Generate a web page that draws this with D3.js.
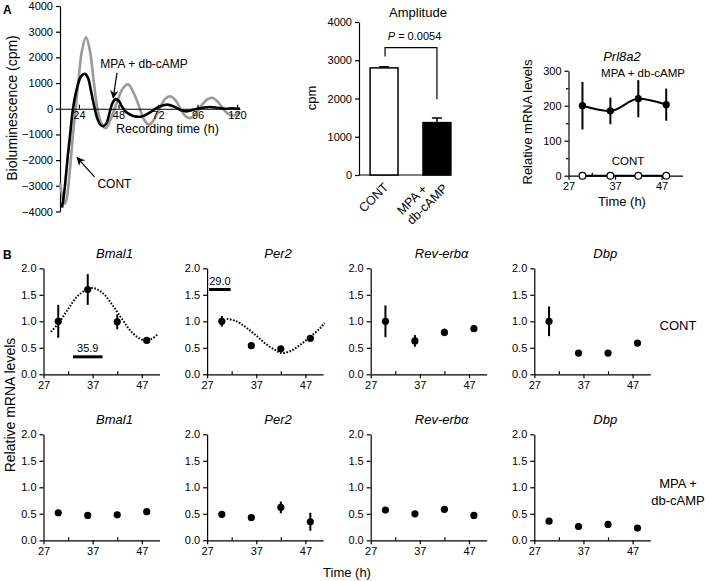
<!DOCTYPE html>
<html><head><meta charset="utf-8">
<script src="https://cdn.jsdelivr.net/npm/d3@7"></script>
<style>body{margin:0;background:#fff}svg{font-family:"Liberation Sans",Arial,Helvetica,sans-serif}</style>
</head><body><svg id="c" width="709" height="581"></svg>
<script>
// ---------------- DATA ----------------
// Panel A: detrended bioluminescence (hours, cpm)
const lumContHours = [12.5,14.3,15.5,16.7,18.5,20.4,22.2,24.0,25.8,28.3,30.7,33.1,35.5,38.0,40.4,43.0,47.1,50.5,53.8,57.0,60.2,63.4,66.5,69.8,73.2,76.6,79.9,83.0,86.0,89.0,92.0,95.3,98.7,102.0,105.4,108.6,111.8,115.0,118.2,121.8];
const lumContValues = [-2900,-3500,-3700,-3450,-2400,-1000,100,1300,2250,2780,2250,1000,-100,-620,-760,-450,250,780,950,650,150,-400,-620,-400,50,400,480,300,-50,-300,-360,-150,150,370,420,250,-20,-220,-260,-120];
const lumMpaHours = [13.7,15.0,16.1,17.3,18.5,20.4,22.8,25.2,27.6,29.5,31.3,33.1,35.0,37.0,38.8,40.8,42.6,44.2,46.0,48.0,50.0,53.0,57.0,62.3,67.0,72.0,77.5,82.0,86.0,89.6,94.0,99.0,104.0,108.0,113.0,117.0,121.8];
const lumMpaValues = [-3850,-3300,-2600,-1800,-1100,0,800,1250,1360,1200,700,150,-350,-620,-680,-550,-150,200,370,320,100,-150,-280,-300,-150,60,160,80,-60,-100,-30,40,70,40,0,20,0];
const lumYTicks = [-4000,-3000,-2000,-1000,0,1000,2000,3000,4000];
const lumXTicks = [24,48,72,96,120];

// Amplitude bars
const ampGroups = ["CONT","MPA + db-cAMP"];
const ampLabels = [["CONT"],["MPA +","db-cAMP"]];
const ampValues = [2800,1370];
const ampErrors = [30,120];
const ampYTicks = [0,1000,2000,3000,4000];
const ampP = "0.0054";

// Prl8a2
const prlTimes = [30,36,42,48];
const prlMpa = [200,185,220,203];
const prlMpaErr = [68,38,53,46];
const prlCont = [0,0,0,0];
const prlYTicks = [0,100,200,300];
const prlYMinor = [50,150,250];

// Panel B
const genes = ["Bmal1","Per2","Rev-erb\u03b1","Dbp"];
const sampleTimes = [30,36,42,48];
const bXTicks = [27,37,47];
const bXMinor = [32,42];
const bYTicks = [0,0.5,1,1.5,2];
const contMeans = [[1.0,1.6,0.99,0.64],[1.0,0.54,0.48,0.68],[1.0,0.63,0.79,0.86],[1.0,0.40,0.40,0.59]];
const contErrs  = [[0.31,0.29,0.14,0.02],[0.10,0.02,0.02,0.06],[0.30,0.11,0.07,0.06],[0.28,0.05,0.02,0.05]];
const mpaMeans  = [[0.52,0.47,0.48,0.54],[0.49,0.43,0.62,0.35],[0.57,0.50,0.585,0.47],[0.36,0.26,0.30,0.23]];
const mpaErrs   = [[0.02,0.02,0.02,0.02],[0.02,0.02,0.11,0.17],[0.02,0.02,0.02,0.02],[0.02,0.02,0.02,0.02]];
// Cosinor fits (hours, level)
const bmal1FitHours = [28.5,30,32,34,36.8,39,41,43,45,47.3,49,50.3];
const bmal1FitValues = [0.80,0.955,1.23,1.48,1.63,1.535,1.31,1.04,0.79,0.645,0.67,0.76];
const per2FitHours = [31,33,35,37,39,41,42.2,44,46,48,50,50.9];
const per2FitValues = [1.05,1.0,0.88,0.73,0.57,0.45,0.40,0.44,0.56,0.71,0.87,0.97];
const phaseBars = [{gene:0,from:33,to:39,level:0.33,label:"35.9"},{gene:1,from:27.4,to:31.8,level:1.60,label:"29.0"}];
const rowLabels = [["CONT"],["MPA +","db-cAMP"]];

// ---------------- DRAW ----------------
const svg = d3.select("#c");
const K = "#000";
function style(g, fs){
  g.selectAll("path.domain").attr("stroke",K).attr("stroke-width",1.2);
  g.selectAll(".tick line").attr("stroke",K).attr("stroke-width",1.2);
  g.selectAll(".tick text").attr("font-size",fs||11).attr("fill",K).attr("font-family",'"Liberation Sans",Arial,sans-serif');
  return g;
}
const defs = svg.append("defs");
defs.append("marker").attr("id","ah").attr("viewBox","0 0 10 10").attr("refX",9).attr("refY",5)
  .attr("markerWidth",7).attr("markerHeight",7).attr("orient","auto")
  .append("path").attr("d","M0,0 L10,5 L0,10 L3,5 Z").attr("fill",K);

// Panel letters
svg.append("text").attr("x",3).attr("y",14).attr("font-weight","bold").attr("font-size",12).text("A");
svg.append("text").attr("x",3).attr("y",259).attr("font-weight","bold").attr("font-size",12).text("B");

// ---- A: bioluminescence ----
const xL = d3.scaleLinear().domain([12.5,121.8]).range([60,240]);
const yL = d3.scaleLinear().domain([-4000,4000]).range([211.5,6]);
style(svg.append("g").attr("transform","translate(60,0)")
  .call(d3.axisLeft(yL).tickValues(lumYTicks).tickSize(4).tickSizeOuter(0)
  .tickFormat(d=>d<0?"\u2212"+Math.abs(d):d)), 11);
const lineL = d3.line().x(d=>xL(d[0])).y(d=>yL(d[1])).curve(d3.curveCatmullRom.alpha(0.5));
svg.append("path").datum(d3.zip(lumContHours,lumContValues)).attr("d",lineL)
  .attr("fill","none").attr("stroke","#9a9a9a").attr("stroke-width",2.6);
svg.append("path").datum(d3.zip(lumMpaHours,lumMpaValues)).attr("d",lineL)
  .attr("fill","none").attr("stroke","#000").attr("stroke-width",2.6);
const zx = svg.append("g").attr("transform",`translate(0,${yL(0)})`)
  .call(d3.axisBottom(xL).tickValues(lumXTicks).tickSize(4).tickSizeOuter(0));
style(zx,11);
zx.selectAll(".tick line").attr("y1",-4).attr("y2",0);
zx.selectAll(".tick text").attr("dy","0.3em").attr("y",7);
svg.append("text").attr("x",xL(37)).attr("y",yL(1600)).attr("font-size",12).text("MPA + db-cAMP");
svg.append("line").attr("x1",xL(47.1)).attr("y1",yL(1400)).attr("x2",xL(44.8)).attr("y2",yL(420))
  .attr("stroke",K).attr("stroke-width",1.2).attr("marker-end","url(#ah)");
svg.append("text").attr("x",xL(35.2)).attr("y",yL(-3100)).attr("font-size",12).text("CONT");
svg.append("line").attr("x1",xL(33.5)).attr("y1",yL(-2650)).attr("x2",xL(22.9)).attr("y2",yL(-1900))
  .attr("stroke",K).attr("stroke-width",1.2).attr("marker-end","url(#ah)");
svg.append("text").attr("x",116).attr("y",133).attr("font-size",12.5).text("Recording time (h)");
svg.append("text").attr("transform","translate(17,108) rotate(-90)").attr("text-anchor","middle")
  .attr("font-size",14).text("Bioluminescence (cpm)");

// ---- A: amplitude ----
const yA = d3.scaleLinear().domain([0,4000]).range([175,22]);
const xA = d3.scaleBand().domain(ampGroups).range([359,462]).paddingInner(0.472).paddingOuter(0.21);
style(svg.append("g").attr("transform","translate(359,0)")
  .call(d3.axisLeft(yA).tickValues(ampYTicks).tickSize(4).tickSizeOuter(0).tickFormat(d3.format("d"))),11);
svg.append("line").attr("x1",359).attr("x2",451).attr("y1",yA(0)).attr("y2",yA(0)).attr("stroke",K).attr("stroke-width",1.2);
ampGroups.forEach((g,i)=>{
  const x0 = xA(g), bw = xA.bandwidth(), cx = x0+bw/2;
  svg.append("line").attr("x1",cx).attr("x2",cx).attr("y1",yA(ampValues[i])).attr("y2",yA(ampValues[i]+ampErrors[i])).attr("stroke",K).attr("stroke-width",1.5);
  svg.append("line").attr("x1",cx-5).attr("x2",cx+5).attr("y1",yA(ampValues[i]+ampErrors[i])).attr("y2",yA(ampValues[i]+ampErrors[i])).attr("stroke",K).attr("stroke-width",1.5);
  svg.append("rect").attr("x",x0).attr("width",bw).attr("y",yA(ampValues[i])).attr("height",yA(0)-yA(ampValues[i]))
    .attr("fill",i===0?"#fff":"#000").attr("stroke",K).attr("stroke-width",1.5);
});
{
  const c0 = xA(ampGroups[0])+xA.bandwidth()/2, c1 = xA(ampGroups[1])+xA.bandwidth()/2;
  svg.append("path").attr("d",`M${c0+1},${yA(3100)} V${yA(3330)} H${c1} V${yA(1980)}`)
    .attr("fill","none").attr("stroke",K).attr("stroke-width",1.2);
  const pt = svg.append("text").attr("x",(c0+c1)/2+4).attr("y",yA(3520)).attr("font-size",11).attr("text-anchor","middle");
  pt.append("tspan").attr("font-style","italic").text("P");
  pt.append("tspan").text(" = "+ampP);
}
svg.append("text").attr("x",418).attr("y",17).attr("text-anchor","middle").attr("font-size",13).text("Amplitude");
svg.append("text").attr("transform","translate(316,98) rotate(-90)").attr("text-anchor","middle").attr("font-size",13).text("cpm");
// rotated category labels
ampLabels.forEach((lines,i)=>{
  const cx = xA(ampGroups[i])+xA.bandwidth()/2;
  const n = lines.length;
  if(n===1){
    svg.append("text").attr("transform",`translate(${cx+5},${188}) rotate(-45)`)
      .attr("text-anchor","end").attr("font-size",12.5).text(lines[0]);
  } else {
    const g = svg.append("g");
    const texts = lines.map((t,j)=>g.append("text").attr("font-size",12.5).attr("y",(j-(n-1))*14).text(t));
    const w = Math.max(...texts.map(t=>t.node().getComputedTextLength()));
    texts.forEach(t=>t.attr("x",-w));
    g.attr("transform",`translate(${cx+11.5},${189}) rotate(-45)`);
  }
});

// ---- A: Prl8a2 ----
const xP = d3.scaleLinear().domain([27,51.5]).range([568.5,682.5]);
const yP = d3.scaleLinear().domain([0,300]).range([175.7,70.7]);
style(svg.append("g").attr("transform","translate(568.5,0)")
  .call(d3.axisLeft(yP).tickValues(prlYTicks).tickSize(4).tickSizeOuter(0)),11);
style(svg.append("g").attr("transform","translate(568.5,0)")
  .call(d3.axisLeft(yP).tickValues(prlYMinor).tickSize(2.5).tickSizeOuter(0).tickFormat("")),11)
  .select("path.domain").remove();
style(svg.append("g").attr("transform",`translate(0,${yP(0)})`)
  .call(d3.axisBottom(xP).tickValues(bXTicks).tickSize(4).tickSizeOuter(0)),11);
style(svg.append("g").attr("transform",`translate(0,${yP(0)})`)
  .call(d3.axisBottom(xP).tickValues(bXMinor).tickSize(-3).tickSizeOuter(0).tickFormat("")),11)
  .select("path.domain").remove();
const lineP = d3.line().x(d=>xP(d[0])).y(d=>yP(d[1])).curve(d3.curveMonotoneX);
svg.append("path").datum(d3.zip(prlTimes,prlCont)).attr("d",lineP).attr("fill","none").attr("stroke",K).attr("stroke-width",2);
svg.append("path").datum(d3.zip(prlTimes,prlMpa)).attr("d",lineP).attr("fill","none").attr("stroke",K).attr("stroke-width",2);
prlTimes.forEach((t,i)=>{
  svg.append("line").attr("x1",xP(t)).attr("x2",xP(t)).attr("y1",yP(prlMpa[i]-prlMpaErr[i])).attr("y2",yP(prlMpa[i]+prlMpaErr[i])).attr("stroke",K).attr("stroke-width",2);
  svg.append("circle").attr("cx",xP(t)).attr("cy",yP(prlMpa[i])).attr("r",3.6).attr("fill",K);
  svg.append("circle").attr("cx",xP(t)).attr("cy",yP(prlCont[i])).attr("r",3.4).attr("fill","#fff").attr("stroke",K).attr("stroke-width",1.2);
});
svg.append("text").attr("x",622).attr("y",61).attr("text-anchor","middle").attr("font-size",13).attr("font-style","italic").text("Prl8a2");
svg.append("text").attr("x",643).attr("y",77).attr("text-anchor","middle").attr("font-size",11.5).text("MPA + db-cAMP");
svg.append("text").attr("x",628).attr("y",165).attr("text-anchor","middle").attr("font-size",11.5).text("CONT");
svg.append("text").attr("transform","translate(532,122) rotate(-90)").attr("text-anchor","middle").attr("font-size",13).text("Relative mRNA levels");
svg.append("text").attr("x",622).attr("y",206).attr("text-anchor","middle").attr("font-size",13).text("Time (h)");

// ---- B ----
const fitData = {0:d3.zip(bmal1FitHours,bmal1FitValues), 1:d3.zip(per2FitHours,per2FitValues)};
[contMeans, mpaMeans].forEach((means,r)=>{
  const errs = r===0?contErrs:mpaErrs;
  const oy = 374.3 + 166*r;
  genes.forEach((gName,c)=>{
    const ox = 43.5 + 163.6*c;
    const xs = d3.scaleLinear().domain([27,50.6]).range([ox,ox+116]);
    const ys = d3.scaleLinear().domain([0,2]).range([oy,oy-106]);
    style(svg.append("g").attr("transform",`translate(${ox},0)`)
      .call(d3.axisLeft(ys).tickValues(bYTicks).tickSize(4).tickSizeOuter(0).tickFormat(d3.format(".1f"))),11);
    style(svg.append("g").attr("transform",`translate(0,${oy})`)
      .call(d3.axisBottom(xs).tickValues(bXTicks).tickSize(4).tickSizeOuter(0)),11);
    style(svg.append("g").attr("transform",`translate(0,${oy})`)
      .call(d3.axisBottom(xs).tickValues(bXMinor).tickSize(-3).tickSizeOuter(0).tickFormat("")),11)
      .select("path.domain").remove();
    svg.append("text").attr("x",ox+71).attr("y",oy-116).attr("text-anchor","middle")
      .attr("font-size",13).attr("font-style","italic").text(gName);
    if(r===0 && fitData[c]){
      svg.append("path").datum(fitData[c]).attr("d",d3.line().x(d=>xs(d[0])).y(d=>ys(d[1])).curve(d3.curveCatmullRom))
        .attr("fill","none").attr("stroke",K).attr("stroke-width",2).attr("stroke-dasharray","1.6,1.6");
    }
    if(r===0){
      phaseBars.filter(p=>p.gene===c).forEach(p=>{
        svg.append("line").attr("x1",xs(p.from)).attr("x2",xs(p.to)).attr("y1",ys(p.level)).attr("y2",ys(p.level)).attr("stroke",K).attr("stroke-width",3);
        svg.append("text").attr("x",(xs(p.from)+xs(p.to))/2).attr("y",ys(p.level)-5).attr("text-anchor","middle").attr("font-size",11).text(p.label);
      });
    }
    sampleTimes.forEach((t,i)=>{
      const m = means[c][i], e = errs[c][i];
      svg.append("line").attr("x1",xs(t)).attr("x2",xs(t)).attr("y1",ys(m-e)).attr("y2",ys(m+e)).attr("stroke",K).attr("stroke-width",2);
      svg.append("circle").attr("cx",xs(t)).attr("cy",ys(m)).attr("r",3.6).attr("fill",K);
    });
  });
  const lines = rowLabels[r];
  const cy = oy - 48;
  lines.forEach((t,j)=>{
    svg.append("text").attr("x",678).attr("y",cy + (j-(lines.length-1)/2)*17 + 4).attr("text-anchor","middle").attr("font-size",13).text(t);
  });
});
svg.append("text").attr("transform","translate(15,405) rotate(-90)").attr("text-anchor","middle").attr("font-size",14).text("Relative mRNA levels");
svg.append("text").attr("x",347).attr("y",577).attr("text-anchor","middle").attr("font-size",13).text("Time (h)");
</script></body></html>
